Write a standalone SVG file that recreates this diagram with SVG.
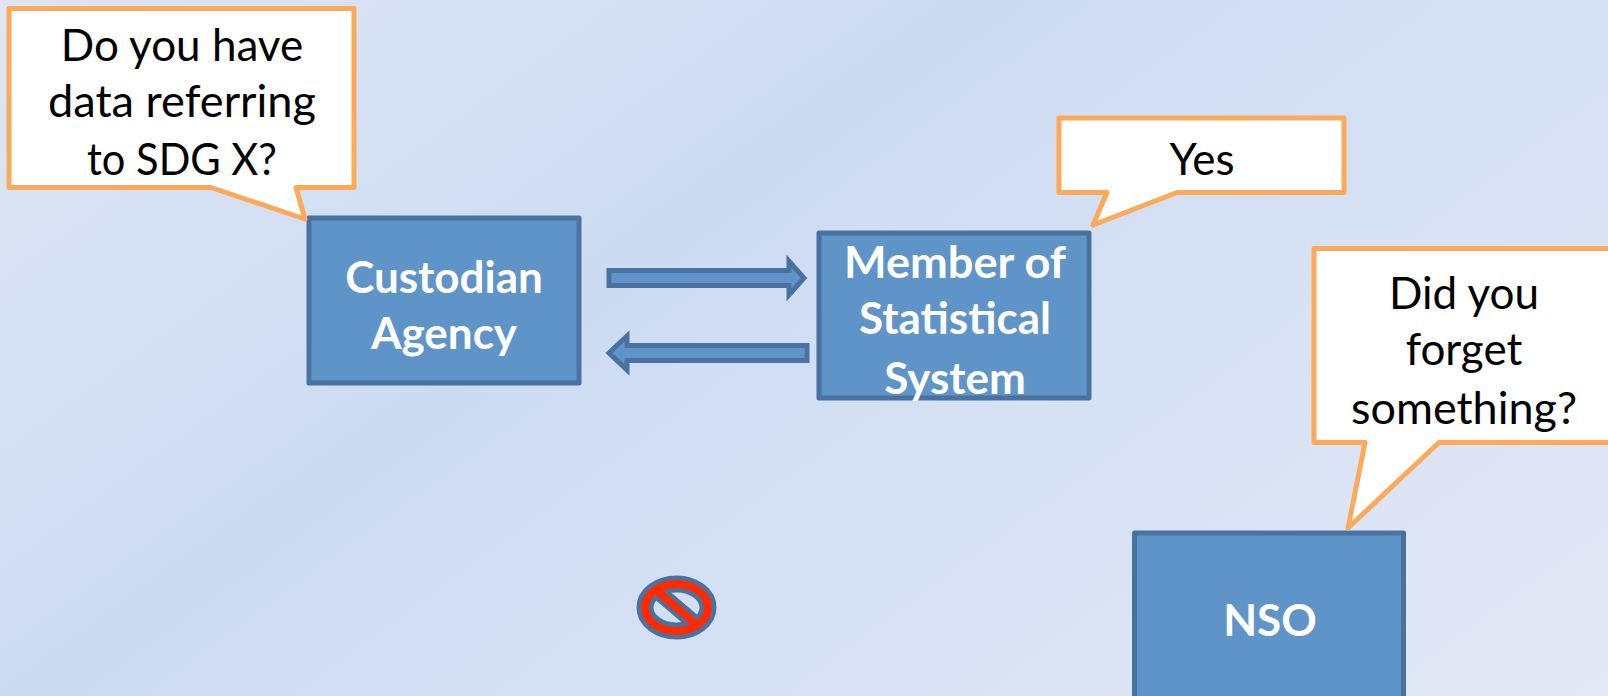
<svg xmlns="http://www.w3.org/2000/svg" width="1608" height="696" viewBox="0 0 1608 696">
<style>
.box{fill:#5f94c8;stroke:#4a72a0;stroke-width:5;stroke-linejoin:round}
.call{fill:#fff;stroke:#fcaa5a;stroke-width:5;stroke-linejoin:round}
.arr{fill:#5f94c8;stroke:#4a72a0;stroke-width:5;stroke-linejoin:miter}
text{font-family:"Lato","Liberation Sans",sans-serif;font-size:44px;text-anchor:middle}
.w{fill:#fff;font-weight:700}
.b{fill:#000}
</style>
<defs>
<linearGradient id="bg" gradientUnits="userSpaceOnUse" x1="0" y1="0" x2="891" y2="1217">
<stop offset="0" stop-color="#dee6f4"/>
<stop offset="0.385" stop-color="#cddbf2"/>
<stop offset="1" stop-color="#e3e9f6"/>
</linearGradient>
</defs>
<rect id="background" width="1608" height="696" fill="url(#bg)"/>
<g id="connectors">
<path class="arr" d="M609 270.500H789V261L804 278L789 295V285.500H609Z"/>
<path class="arr" d="M807 345.500H627V336L609 353L627 370V360.500H807Z"/>
</g>
<g id="custodian"><rect class="box" x="309" y="218" width="270" height="165"/><text class="w" x="444" y="293">Custodian</text><text class="w" x="444" y="349">Agency</text></g>
<g id="member"><rect class="box" x="819" y="233" width="270" height="165"/><text class="w" x="955" y="278" textLength="222" lengthAdjust="spacingAndGlyphs">Member of</text><text class="w" x="955" y="334">Statistical</text><text class="w" x="955" y="394">System</text></g>
<g id="nso"><rect class="box" x="1134.500" y="533" width="269" height="170"/><text class="w" x="1270" y="636">NSO</text></g>
<g id="callout-question"><path class="call" d="M9 8.500H354V187.500H296L305 219L211 187.500H9Z"/><text class="b" x="182" y="61">Do you have</text><text class="b" x="182" y="117" textLength="268" lengthAdjust="spacingAndGlyphs">data referring</text><text class="b" x="182" y="175" textLength="190" lengthAdjust="spacingAndGlyphs">to SDG X?</text></g>
<g id="callout-yes"><path class="call" d="M1059 118H1344V192.500H1177L1093 225L1107 192.500H1059Z"/><text class="b" x="1202" y="175">Yes</text></g>
<g id="callout-forget"><path class="call" d="M1314 248.500H1620V442.500H1439L1348 528L1365 442.500H1314Z"/><text class="b" x="1464" y="309">Did you</text><text class="b" x="1464" y="365">forget</text><text class="b" x="1464" y="424" textLength="226" lengthAdjust="spacingAndGlyphs">something?</text></g>
<g id="prohibit" fill="none">
<ellipse cx="676.500" cy="607.500" rx="31.500" ry="23.500" stroke="#4a72a0" stroke-width="17"/>
<line x1="656" y1="590" x2="697" y2="625" stroke="#4a72a0" stroke-width="16"/>
<ellipse cx="676.500" cy="607.500" rx="31.500" ry="23.500" stroke="#ff2a00" stroke-width="8"/>
<line x1="656" y1="590" x2="697" y2="625" stroke="#ff2a00" stroke-width="8"/>
</g>
</svg>
